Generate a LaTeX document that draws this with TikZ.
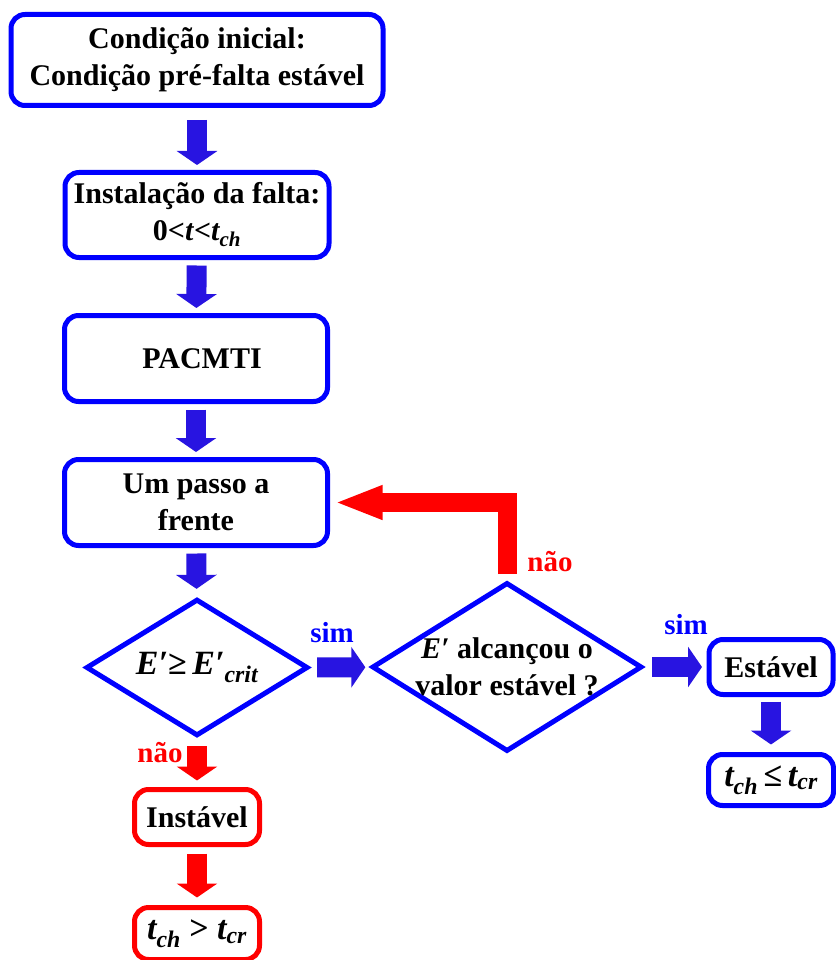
\documentclass[tikz,border=0pt]{standalone}
\usepackage{fontspec}
\setmainfont{Liberation Serif}
\usetikzlibrary{shapes.geometric,arrows.meta}
\definecolor{arrowblue}{RGB}{40,20,225}
\tikzset{
  box/.style={draw=blue, line width=5pt, rounded corners=14pt, inner sep=0pt,
    align=center, font=\fontsize{30}{37}\selectfont\bfseries},
  redbox/.style={box, draw=red},
  decision/.style={diamond, draw=blue, line width=5pt, inner sep=-4pt,
    align=center, font=\fontsize{30}{37}\selectfont\bfseries},
  bluearrow/.style={arrowblue, line width=20pt, -{Triangle[width=40pt,length=14pt]},
    shorten <=5.5pt, shorten >=5pt},
  redarrow/.style={bluearrow, red},
  backarrow/.style={red, line width=19pt, line join=miter,
    -{Triangle[width=31pt,length=48pt]}, shorten <=6pt, shorten >=4.5pt},
  answer/.style={font=\fontsize{29}{34}\selectfont\bfseries}
}
\begin{document}
\begin{tikzpicture}[x=1pt,y=-1pt]
  \useasboundingbox (0,0) rectangle (835,960);
  \draw
    (197,60) node[box, minimum width=372pt, minimum height=91pt] (init)
      {Condição inicial:\\Condição pré-falta estável}
    (197,215) node[box, minimum width=264pt, minimum height=85pt] (fault)
      {Instalação da falta:\\0<\textit{t}<\textit{t\textsubscript{ch}}}
    (196,358.5) node[box, minimum width=263pt, minimum height=86pt] (pacmti)
      {\hspace*{12pt}PACMTI}
    (196,502.5) node[box, minimum width=263pt, minimum height=86pt] (step)
      {Um passo a\\frente}
    (197,667.5) node[decision, minimum width=222pt, minimum height=119pt] (crit)
      {\fontsize{34}{40}\selectfont\itshape E′\textup{≥}\,E′\textsubscript{crit}}
    (507,667) node[decision, aspect=1.6, minimum width=270pt, minimum height=169pt] (check)
      {\textit{E′} alcançou o\\valor estável ?}
    (771,667) node[box, minimum width=124pt, minimum height=55pt] (stable)
      {Estável}
    (771,780) node[box, minimum width=125pt, minimum height=51pt] (tle)
      {\fontsize{34}{40}\selectfont\itshape t\textsubscript{ch}\,\textup{≤}\,t\textsubscript{cr}}
    (197,817) node[redbox, minimum width=125pt, minimum height=55pt] (unstable)
      {Instável}
    (197,933.5) node[redbox, minimum width=125pt, minimum height=52pt] (tgt)
      {\fontsize{34}{40}\selectfont\itshape t\textsubscript{ch} \textup{>} t\textsubscript{cr}};
  \node[answer, text=blue] (yes1) at (332,633) {sim};
  \node[answer, text=blue] (yes2) at (686,625) {sim};
  \node[answer, text=red] (no1) at (550,562) {não};
  \node[answer, text=red] (no2) at (160,753) {não};
  \begin{scope}
    \draw[bluearrow, shorten <=12pt] (init) -- (fault);
    \draw[bluearrow] (fault) -- (pacmti);
    \draw[bluearrow] (pacmti) -- (step);
    \draw[bluearrow, shorten >=8pt] (step) -- (crit);
    \draw[bluearrow, shorten <=7pt, shorten >=4.5pt] (crit) -- (check);
    \draw[bluearrow, shorten <=7.5pt, shorten >=4.5pt] (check) -- (stable);
    \draw[bluearrow, shorten <=4.5pt, shorten >=7.5pt] (stable) -- (tle);
    \draw[redarrow, shorten <=8pt, shorten >=6.5pt] (crit) -- (unstable);
    \draw[redarrow, shorten <=6.5pt, shorten >=7.5pt] (unstable) -- (tgt);
    \draw[backarrow] (check.north) |- (step.east);
  \end{scope}
\end{tikzpicture}
\end{document}
